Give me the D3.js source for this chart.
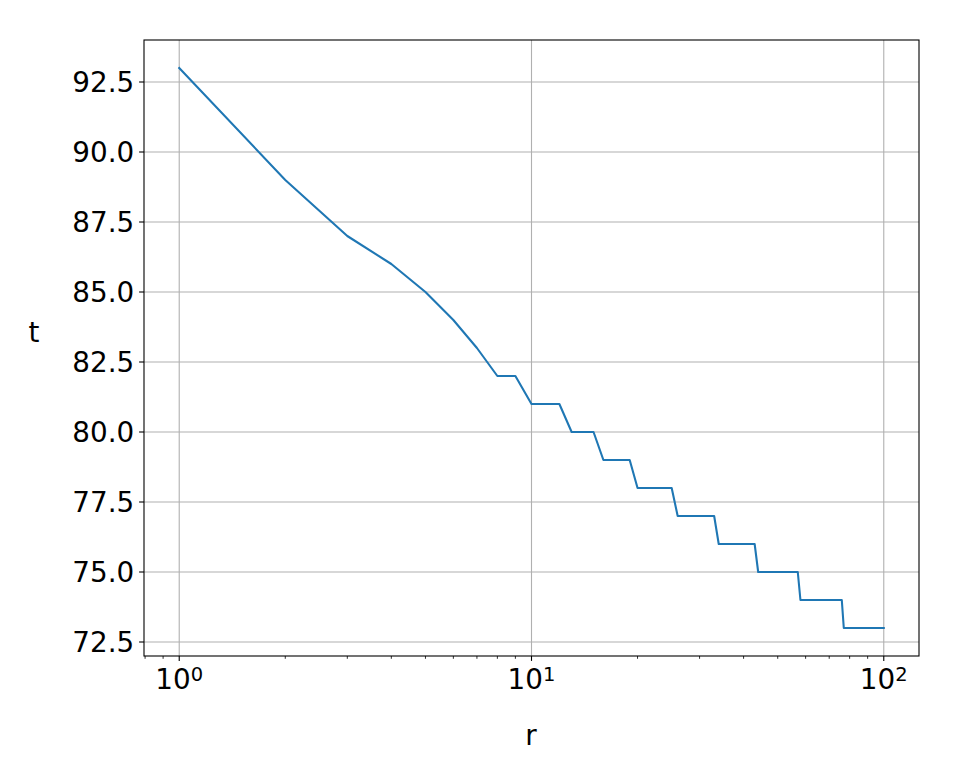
<!DOCTYPE html>
<html><head><meta charset="utf-8">
<script src="https://cdn.jsdelivr.net/npm/d3@7"></script>
<style>body{margin:0;background:#fff;} text{font-family:"DejaVu Sans";}</style>
</head><body>
<svg id="c" width="976" height="766"></svg>
<script>
const rValues = d3.range(1, 101);
const tValues = [
 93, 89, 87, 86, 85, 84, 83, 82, 82, 81,
 81, 81, 80, 80, 80, 79, 79, 79, 79, 78,
 78, 78, 78, 78, 78, 77, 77, 77, 77, 77,
 77, 77, 77, 76, 76, 76, 76, 76, 76, 76,
 76, 76, 76, 75, 75, 75, 75, 75, 75, 75,
 75, 75, 75, 75, 75, 75, 75, 74, 74, 74,
 74, 74, 74, 74, 74, 74, 74, 74, 74, 74,
 74, 74, 74, 74, 74, 74, 73, 73, 73, 73,
 73, 73, 73, 73, 73, 73, 73, 73, 73, 73,
 73, 73, 73, 73, 73, 73, 73, 73, 73, 73
];
const xTicks = [1, 10, 100];
const xTickExp = ["0", "1", "2"];
const yTicks = [72.5, 75, 77.5, 80, 82.5, 85, 87.5, 90, 92.5];

const svg = d3.select("#c");
const L = 144, R = 919, T = 40, B = 656;
const FS = 27.8;
const x = d3.scaleLog().domain([Math.pow(10, -0.1), Math.pow(10, 2.1)]).range([L, R]);
const y = d3.scaleLinear().domain([72, 94]).range([B, T]);

// grid
const g = svg.append("g");
g.selectAll(".gx").data(xTicks).join("line")
  .attr("x1", d => x(d)).attr("x2", d => x(d)).attr("y1", T).attr("y2", B)
  .attr("stroke", "#b0b0b0").attr("stroke-width", 1.1);
g.selectAll(".gy").data(yTicks).join("line")
  .attr("y1", d => y(d)).attr("y2", d => y(d)).attr("x1", L).attr("x2", R)
  .attr("stroke", "#b0b0b0").attr("stroke-width", 1.1);

// line
const data = rValues.map((r, i) => [r, tValues[i]]);
svg.append("path").datum(data)
  .attr("d", d3.line().x(d => x(d[0])).y(d => y(d[1])))
  .attr("fill", "none").attr("stroke", "#1f77b4").attr("stroke-width", 2.08)
  .attr("stroke-linejoin", "round").attr("stroke-linecap", "square");

// axes
const minor = [];
[0.1, 1, 10, 100].forEach(dec => { for (let k = 2; k <= 9; k++) { const v = dec * k; if (v >= x.domain()[0] && v <= x.domain()[1]) minor.push(v); } });
const xAxis = svg.append("g").attr("transform", `translate(0,${B})`);
xAxis.selectAll(".mn").data(minor).join("line")
  .attr("x1", d => x(d)).attr("x2", d => x(d)).attr("y1", 0).attr("y2", 2.8)
  .attr("stroke", "#000").attr("stroke-width", 0.83);
xAxis.selectAll(".mj").data(xTicks).join("line")
  .attr("x1", d => x(d)).attr("x2", d => x(d)).attr("y1", 0).attr("y2", 4.9)
  .attr("stroke", "#000").attr("stroke-width", 1.1);
const xl = xAxis.selectAll(".lb").data(xTicks).join("text")
  .attr("x", d => x(d)).attr("y", 33).attr("text-anchor", "middle")
  .attr("font-size", FS).attr("fill", "#000");
xl.append("tspan").text("10");
xl.append("tspan").attr("dy", -8).attr("font-size", 19.5).text((d, i) => xTickExp[i]);

const yAxis = svg.append("g").attr("transform", `translate(${L},0)`);
yAxis.selectAll(".mj").data(yTicks).join("line")
  .attr("y1", d => y(d)).attr("y2", d => y(d)).attr("x1", 0).attr("x2", -4.9)
  .attr("stroke", "#000").attr("stroke-width", 1.1);
yAxis.selectAll(".lb").data(yTicks).join("text")
  .attr("x", -9.8).attr("y", d => y(d)).attr("dy", "0.36em").attr("text-anchor", "end")
  .attr("font-size", FS).attr("fill", "#000").text(d => d.toFixed(1));

// frame
svg.append("rect").attr("x", L).attr("y", T).attr("width", R - L).attr("height", B - T)
  .attr("fill", "none").attr("stroke", "#000").attr("stroke-width", 1.1);

svg.append("text").attr("x", 531).attr("y", 745).attr("text-anchor", "middle")
  .attr("font-size", FS).text("r");
svg.append("text").attr("x", 34).attr("y", 342).attr("text-anchor", "middle")
  .attr("font-size", FS).text("t");
</script>
</body></html>
